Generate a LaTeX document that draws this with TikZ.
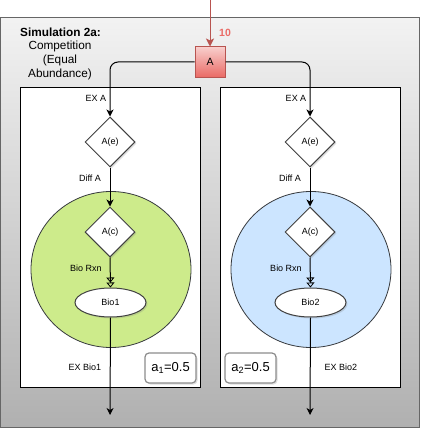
\documentclass[tikz,border=0pt]{standalone}
\usepackage{fontspec}
\setmainfont{Liberation Sans}
\usetikzlibrary{shapes.geometric,arrows.meta,shadows}

\definecolor{redstroke}{HTML}{B85450}
\definecolor{redtop}{HTML}{F8CECC}
\definecolor{redbot}{HTML}{EA6B66}
\definecolor{greenfill}{HTML}{CDEB8B}
\definecolor{bluefill}{HTML}{CCE5FF}
\definecolor{cellstroke}{HTML}{36393D}
\definecolor{framestroke}{HTML}{666666}

\tikzset{
  lbl/.style={font=\fontsize{9}{10}\selectfont, inner sep=0pt},
  panel/.style={draw=black, fill=white, line width=1pt, minimum width=180pt, minimum height=300pt, inner sep=0pt},
  cell/.style={ellipse, draw=cellstroke, line width=0.8pt, minimum width=160pt, minimum height=156pt, inner sep=0pt},
  dia/.style={diamond, draw=black!75, fill=white, line width=1pt, minimum width=50pt, minimum height=50pt, inner sep=0pt,
    font=\fontsize{9}{10}\selectfont, drop shadow={opacity=0.25, shadow xshift=1.5pt, shadow yshift=-1.5pt}},
  biomass/.style={ellipse, draw=black!75, fill=white, line width=1pt, minimum width=71pt, minimum height=29pt, inner sep=0pt,
    font=\fontsize{9}{10}\selectfont, drop shadow={opacity=0.25, shadow xshift=1.5pt, shadow yshift=-1.5pt}},
  species/.style={rectangle, draw=redstroke, top color=redtop, bottom color=redbot, line width=1pt,
    minimum width=30pt, minimum height=30pt, inner sep=0pt, font=\fontsize{10.5}{12}\selectfont},
  coef/.style={rectangle, rounded corners=4pt, draw=black!45, fill=white, line width=1.2pt,
    minimum width=51pt, minimum height=30pt, inner sep=0pt, font=\fontsize{13}{14}\selectfont,
    drop shadow={opacity=0.25, shadow xshift=1.5pt, shadow yshift=-1.5pt}},
  flow/.style={draw=black, line width=1pt, -{Stealth[length=7pt, width=7pt, inset=2pt]}},
  rxn/.style={draw=black, line width=1pt, -{Triangle[open, length=5pt, width=8pt, line width=0.8pt]Triangle[open, length=5pt, width=8pt, line width=0.8pt]}},
  feed/.style={draw=redstroke, line width=1pt, -{Stealth[length=8pt, width=8pt, inset=2pt]}},
}

\begin{document}
\begin{tikzpicture}[x=1pt, y=-1pt]
\useasboundingbox (0,0) rectangle (421,428);

% outer frame with vertical grey gradient
\shade[top color=black!5, bottom color=black!31, draw=framestroke, line width=1pt]
  (0.5,17.5) rectangle (419.5,427.5);

% title
\node[font=\fontsize{11.8}{13}\selectfont\bfseries, inner sep=0pt] (title) at (60.5,32) {Simulation 2a:};
\node[font=\fontsize{11.8}{14}\selectfont, align=center, inner sep=0pt] (subtitle) at (60,60)
  {Competition\\(Equal\\Abundance)};

% compartments
\node[panel] (box1) at (110.5,237.5) {};
\node[panel] (box2) at (310.5,237.5) {};

% cells
\node[cell, fill=greenfill] (cell1) at (111,269.5) {};
\node[cell, fill=bluefill] (cell2) at (311,269.5) {};

% shared substrate
\node[species] (A) at (210,62) {A};
\coordinate (feedin) at (210,0);
\draw[feed] (feedin) -- (A);
\node[font=\fontsize{10.5}{12}\selectfont\bfseries, text=redbot, inner sep=0pt] (dose) at (225,33) {10};

% species 1 pathway
\node[dia] (Ae1) at (110,142) {A(e)};
\node[dia] (Ac1) at (110,232) {A(c)};
\node[biomass] (Bio1) at (110.5,302.5) {Bio1};
\coordinate (out1) at (110,415);
\draw[flow, rounded corners=8pt] (A.west) -| (Ae1.north);
\draw[flow] (Ae1.south) -- (Ac1.north);
\draw[rxn] (Ac1.south) -- (Bio1.north);
\draw[flow] (Bio1.south) -- (out1);

% species 2 pathway
\node[dia] (Ae2) at (310,142) {A(e)};
\node[dia] (Ac2) at (310,232) {A(c)};
\node[biomass] (Bio2) at (310.5,302.5) {Bio2};
\coordinate (out2) at (310,415);
\draw[flow, rounded corners=8pt] (A.east) -| (Ae2.north);
\draw[flow] (Ae2.south) -- (Ac2.north);
\draw[rxn] (Ac2.south) -- (Bio2.north);
\draw[flow] (Bio2.south) -- (out2);

% edge labels
\node[lbl] (exa1) at (96,98) {EX A};
\node[lbl] (exa2) at (296,98) {EX A};
\node[lbl] (diff1) at (90,178) {Diff A};
\node[lbl] (diff2) at (290,178) {Diff A};
\node[lbl] (rxn1) at (86,268) {Bio Rxn};
\node[lbl] (rxn2) at (286,268) {Bio Rxn};
\node[lbl] (exb1) at (85,367) {EX Bio1};
\node[lbl] (exb2) at (341,367) {EX Bio2};

% abundance coefficients
\node[coef] (a1) at (170.5,368) {a\textsubscript{1}=0.5};
\node[coef] (a2) at (250.5,368) {a\textsubscript{2}=0.5};
\end{tikzpicture}
\end{document}
